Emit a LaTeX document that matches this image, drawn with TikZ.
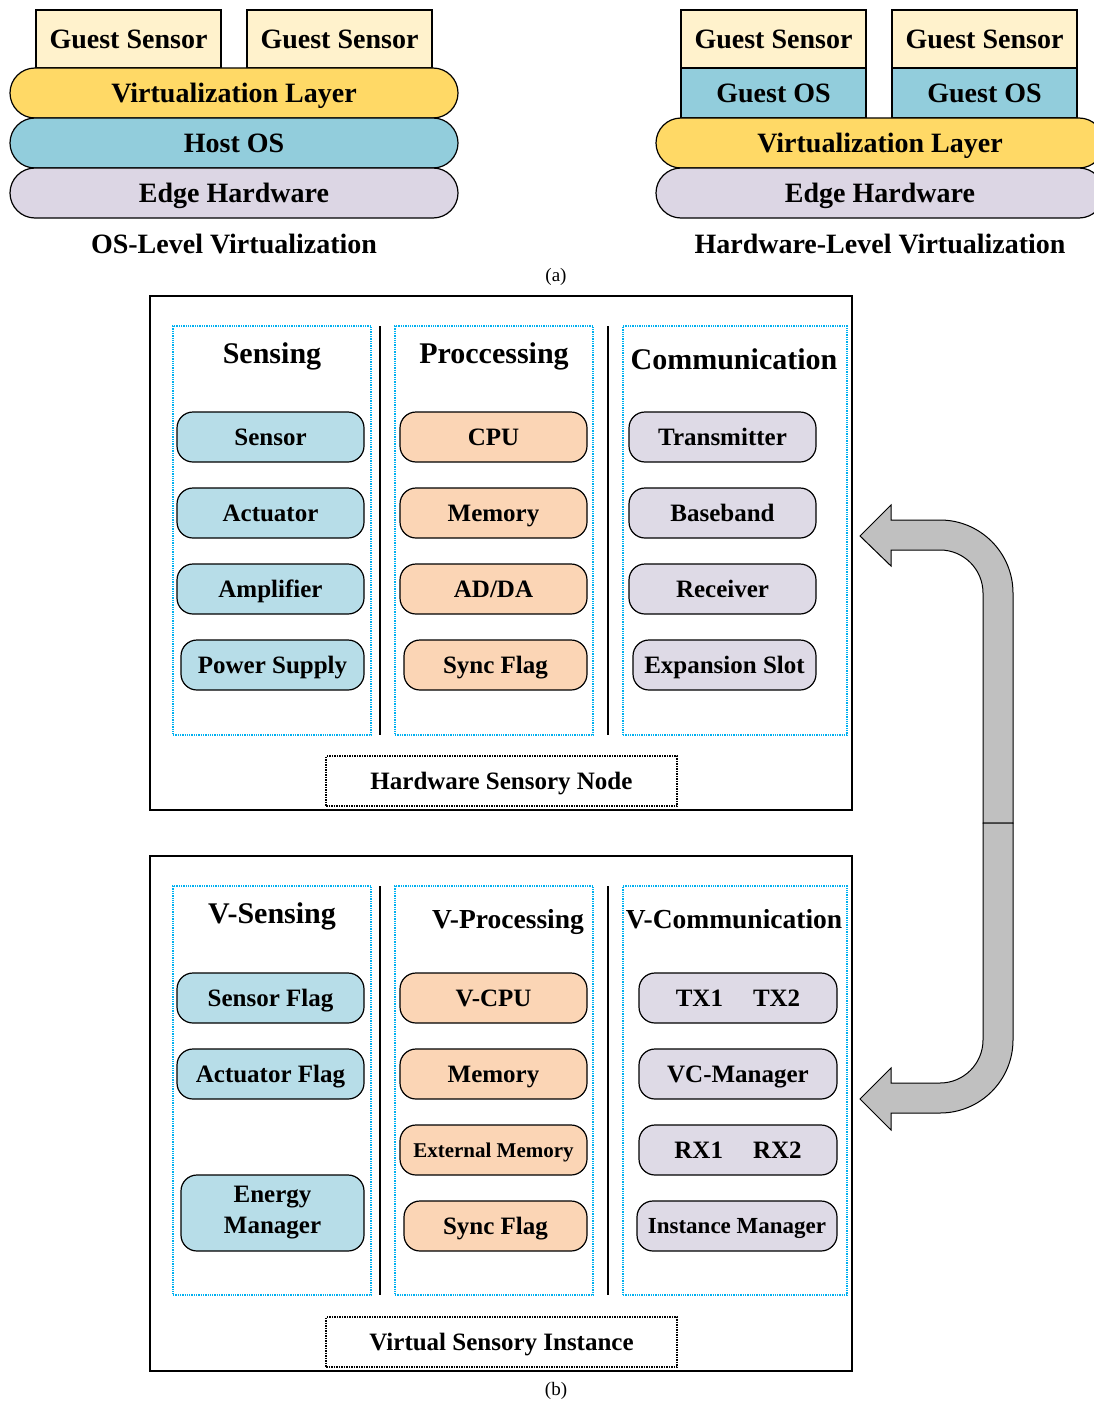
\documentclass[tikz,border=0pt]{standalone}
\usepackage{fontspec}
\setmainfont{Liberation Serif}
\usetikzlibrary{positioning}
\definecolor{cream}{HTML}{FFF2CC}
\definecolor{gold}{HTML}{FFD966}
\definecolor{hostblue}{HTML}{92CDDC}
\definecolor{lilac}{HTML}{DCD6E4}
\definecolor{skyblue}{HTML}{B7DDE8}
\definecolor{peach}{HTML}{FBD5B5}
\definecolor{lavender}{HTML}{DEDAE6}
\definecolor{dotcyan}{HTML}{00B0F0}
\definecolor{arrowgray}{HTML}{C0C0C0}
\tikzset{layer/.style = {draw, line width=1.2pt, rounded corners=25pt, minimum width=448pt,
                         minimum height=50pt, inner sep=0, text height=26pt, text depth=7pt,
                         font=\fontsize{28}{30}\selectfont\bfseries}}
\tikzset{guest/.style = {draw, line width=1.2pt, minimum width=185pt, minimum height=58pt,
                         inner sep=0, text height=26pt, text depth=7pt,
                         font=\fontsize{28}{30}\selectfont\bfseries}}
\tikzset{caption/.style = {inner sep=0, text height=26pt, text depth=7pt,
                           font=\fontsize{28}{30}\selectfont\bfseries}}
\tikzset{sub/.style = {inner sep=0, font=\fontsize{19}{21}\selectfont}}
\tikzset{frame/.style = {draw, line width=1.4pt, minimum width=702pt, inner sep=0}}
\tikzset{column/.style = {draw=dotcyan, densely dotted, line width=1.3pt, minimum height=409pt, inner sep=0}}
\tikzset{heading/.style = {inner sep=0, text height=27.4pt, text depth=7pt,
                           font=\fontsize{30}{32}\selectfont\bfseries}}
\tikzset{vheading/.style = {inner sep=0, text height=25.7pt, text depth=7pt,
                            font=\fontsize{27.5}{30}\selectfont\bfseries}}
\tikzset{unit/.style = {draw, line width=1.2pt, rounded corners=16pt, minimum width=187pt,
                        minimum height=50pt, inner sep=0, text height=23pt, text depth=6pt,
                        font=\fontsize{25}{29}\selectfont\bfseries}}
\tikzset{namebox/.style = {draw, densely dotted, line width=1.5pt, minimum width=351pt,
                           minimum height=50pt, inner sep=0, text height=23pt, text depth=6pt,
                           font=\fontsize{25}{27}\selectfont\bfseries}}

\begin{document}
\begin{tikzpicture}[x=1pt, y=-1pt]
      \useasboundingbox (0,0) rectangle (1094,1402);
      % (a) os-level
      \node [guest, fill=cream] (gs1) at (128.5,39) {Guest Sensor};
      \node [guest, fill=cream] (gs2) at (339.5,39) {Guest Sensor};
      \node [layer, fill=gold] (vl1) at (234,93) {Virtualization Layer};
      \node [layer, fill=hostblue] (hos) at (234,143) {Host OS};
      \node [layer, fill=lilac] (eh1) at (234,193) {Edge Hardware};
      \node [caption] (cap1) at (234,244) {OS-Level Virtualization};
      % (a) hardware-level
      \node [guest, fill=cream] (gs3) at (773.5,39) {Guest Sensor};
      \node [guest, fill=cream] (gs4) at (984.5,39) {Guest Sensor};
      \node [guest, fill=hostblue, minimum height=50pt] (go1) at (773.5,93) {Guest OS};
      \node [guest, fill=hostblue, minimum height=50pt] (go2) at (984.5,93) {Guest OS};
      \node [layer, fill=gold] (vl2) at (880,143) {Virtualization Layer};
      \node [layer, fill=lilac] (eh2) at (880,193) {Edge Hardware};
      \node [caption] (cap2) at (880,244) {Hardware-Level Virtualization};
      \node [sub] (suba) at (556,277) {(a)};

      % (b) hardware sensory node
      \node [frame, minimum height=514pt] (hw) at (501,553) {};
      \node [column, minimum width=198pt] (sen) at (272,530.5) {};
      \node [column, minimum width=198pt] (pro) at (494,530.5) {};
      \node [column, minimum width=224pt] (com) at (735,530.5) {};
      \draw [line width=1.4pt] (380,326) -- (380,735);
      \draw [line width=1.4pt] (608,326) -- (608,735);
      \node [heading] (sent) at (272,353) {Sensing};
      \node [heading] (prot) at (494,353) {Proccessing};
      \node [heading] (comt) at (734,359) {Communication};
      \node [unit, fill=skyblue] (sensor) at (270.5,437) {Sensor};
      \node [unit, fill=skyblue] (actuator) at (270.5,513) {Actuator};
      \node [unit, fill=skyblue] (amplifier) at (270.5,589) {Amplifier};
      \node [unit, fill=skyblue, minimum width=183pt] (power) at (272.5,665) {Power Supply};
      \node [unit, fill=peach] (cpu) at (493.5,437) {CPU};
      \node [unit, fill=peach] (memory) at (493.5,513) {Memory};
      \node [unit, fill=peach] (adda) at (493.5,589) {AD/DA};
      \node [unit, fill=peach, minimum width=183pt] (sync) at (495.5,665) {Sync Flag};
      \node [unit, fill=lavender] (tx) at (722.5,437) {Transmitter};
      \node [unit, fill=lavender] (baseband) at (722.5,513) {Baseband};
      \node [unit, fill=lavender] (rx) at (722.5,589) {Receiver};
      \node [unit, fill=lavender, minimum width=183pt] (slot) at (724.5,665) {Expansion Slot};
      \node [namebox] (hwname) at (501.5,781) {Hardware Sensory Node};

      % (b) virtual sensory instance
      \node [frame, minimum height=515pt] (vs) at (501,1113.5) {};
      \node [column, minimum width=198pt] (vsen) at (272,1090.5) {};
      \node [column, minimum width=198pt] (vpro) at (494,1090.5) {};
      \node [column, minimum width=224pt] (vcom) at (735,1090.5) {};
      \draw [line width=1.4pt] (380,886) -- (380,1295);
      \draw [line width=1.4pt] (608,886) -- (608,1295);
      \node [heading] (vsent) at (272,913) {V-Sensing};
      \node [vheading] (vprot) at (508,919) {V-Processing};
      \node [vheading] (vcomt) at (734,919) {V-Communication};
      \node [unit, fill=skyblue] (sflag) at (270.5,998) {Sensor Flag};
      \node [unit, fill=skyblue] (aflag) at (270.5,1074) {Actuator Flag};
      \node [unit, fill=skyblue, minimum width=183pt, minimum height=76pt, text height=, text depth=,
             align=center, font=\fontsize{25}{31}\selectfont\bfseries] (energy) at (272.5,1213) {Energy\\Manager};
      \node [unit, fill=peach] (vcpu) at (493.5,998) {V-CPU};
      \node [unit, fill=peach] (vmemory) at (493.5,1074) {Memory};
      \node [unit, fill=peach, text height=19.2pt, text depth=5pt,
             font=\fontsize{21}{23}\selectfont\bfseries] (extmem) at (493.5,1150) {External Memory};
      \node [unit, fill=peach, minimum width=183pt] (vsync) at (495.5,1226) {Sync Flag};
      \node [unit, fill=lavender, minimum width=198pt] (txs) at (738,998) {TX1\hspace{30pt}TX2};
      \node [unit, fill=lavender, minimum width=198pt] (vcm) at (738,1074) {VC-Manager};
      \node [unit, fill=lavender, minimum width=198pt] (rxs) at (738,1150) {RX1\hspace{30pt}RX2};
      \node [unit, fill=lavender, minimum width=200pt, text height=21.6pt, text depth=6pt,
             font=\fontsize{23}{25}\selectfont\bfseries] (inst) at (737,1226) {Instance Manager};
      \node [namebox] (vsname) at (501.5,1342) {Virtual Sensory Instance};
      \node [sub] (subb) at (556,1391) {(b)};

      % block arrows between the two frames
      \draw [fill=arrowgray, line width=1pt] (1013,823) -- (1013,593)
            .. controls (1013,552.7) and (980.3,520) .. (940,520) -- (891,520) -- (891,505)
            -- (860,536) -- (891,566) -- (891,550) -- (940,550)
            .. controls (963.7,550) and (983,569.3) .. (983,593) -- (983,823) -- cycle;
      \draw [fill=arrowgray, line width=1pt] (1013,823) -- (1013,1040)
            .. controls (1013,1080.3) and (980.3,1113) .. (940,1113) -- (891,1113) -- (891,1130)
            -- (860,1099) -- (891,1068) -- (891,1083) -- (940,1083)
            .. controls (963.7,1083) and (983,1063.7) .. (983,1040) -- (983,823) -- cycle;
\end{tikzpicture}
\end{document}
